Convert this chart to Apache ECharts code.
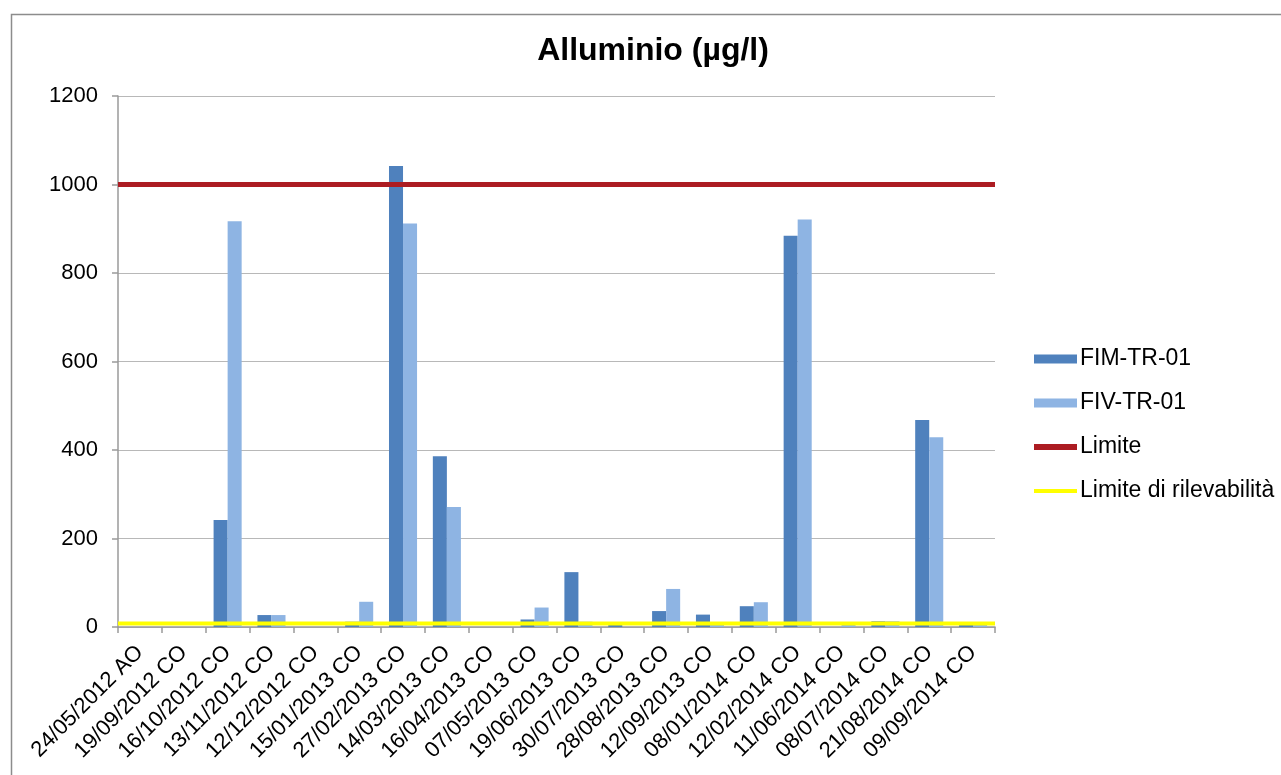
<!DOCTYPE html>
<html>
<head>
<meta charset="utf-8">
<title>Alluminio (µg/l)</title>
<script src="https://cdn.jsdelivr.net/npm/echarts@6/dist/echarts.min.js"></script>
<style>
  html, body { margin: 0; padding: 0; background: #ffffff; }
  #chart { width: 1281px; height: 775px; }
</style>
</head>
<body>
<div id="chart"></div>
<script>
// Sampling campaigns (date + campaign type)
const categories = [
  '24/05/2012 AO', '19/09/2012 CO', '16/10/2012 CO', '13/11/2012 CO',
  '12/12/2012 CO', '15/01/2013 CO', '27/02/2013 CO', '14/03/2013 CO',
  '16/04/2013 CO', '07/05/2013 CO', '19/06/2013 CO', '30/07/2013 CO',
  '28/08/2013 CO', '12/09/2013 CO', '08/01/2014 CO', '12/02/2014 CO',
  '11/06/2014 CO', '08/07/2014 CO', '21/08/2014 CO', '09/09/2014 CO'
];

// Aluminium concentration per station (µg/l)
const fimTr01 = [0, 0, 242, 27, 0, 12, 1042, 386, 0, 17, 124, 11, 36, 28, 47, 884, 0, 13, 468, 10];
const fivTr01 = [0, 0, 917, 27, 0, 57, 912, 271, 0, 44, 12, 0, 86, 10, 56, 921, 10, 13, 429, 10];

// Regulatory limit and detection limit (µg/l)
const limite = categories.map(() => 1000);
const limiteRilevabilita = categories.map(() => 8);

// Y axis scale
const yMin = 0;
const yMax = 1200;
const yStep = 200;

const chart = echarts.init(document.getElementById('chart'), null, { renderer: 'canvas' });

const font = 'Liberation Sans, Arial, sans-serif';
const axisGrey = '#9a9a9a';

chart.setOption({
  animation: false,
  backgroundColor: '#ffffff',
  graphic: [{
    type: 'rect',
    left: 9, top: 12,
    shape: { width: 1300, height: 800 },
    style: { fill: 'none', stroke: '#8c8c8c', lineWidth: 1.5 },
    silent: true, z: -1
  }],
  title: {
    text: 'Alluminio (µg/l)',
    left: 648, top: 30,
    textAlign: 'center',
    textStyle: { fontFamily: font, fontSize: 32, fontWeight: 'bold', color: '#000000' }
  },
  legend: {
    orient: 'vertical',
    left: 1029, top: 342,
    itemWidth: 43, itemHeight: 9,
    itemGap: 20,
    textStyle: { fontFamily: font, fontSize: 23, color: '#000000', lineHeight: 24, padding: [0, 0, 0, -2] },
    data: [
      { name: 'FIM-TR-01', icon: 'rect' },
      { name: 'FIV-TR-01', icon: 'rect' },
      { name: 'Limite', icon: 'path://M0,0h43v6h-43z' },
      { name: 'Limite di rilevabilità', icon: 'path://M0,0h43v4h-43z' }
    ]
  },
  grid: { left: 118, right: 286, top: 96, bottom: 148 },
  xAxis: [{
    type: 'category',
    data: categories,
    axisLine: { lineStyle: { color: axisGrey, width: 1.5 } },
    axisTick: { show: true, length: 6, lineStyle: { color: axisGrey, width: 1.5 } },
    axisLabel: {
      rotate: 45, interval: 0, margin: 22,
      fontFamily: font, fontSize: 22, color: '#000000'
    }
  }, {
    type: 'category',
    data: categories,
    boundaryGap: false,
    show: false
  }],
  yAxis: {
    type: 'value',
    min: yMin, max: yMax, interval: yStep,
    axisLine: { show: true, lineStyle: { color: axisGrey, width: 1.5 } },
    axisTick: { show: true, length: 6, lineStyle: { color: axisGrey, width: 1.5 } },
    splitLine: { lineStyle: { color: '#b8b8b8', width: 1.2 } },
    axisLabel: {
      margin: 20, fontFamily: font, fontSize: 22, color: '#000000',
      formatter: (v) => String(v)
    }
  },
  series: [{
    name: 'FIM-TR-01',
    type: 'bar',
    data: fimTr01,
    barGap: '0%',
    barCategoryGap: '36%',
    itemStyle: { color: '#4f81bd' },
    z: 2
  }, {
    name: 'FIV-TR-01',
    type: 'bar',
    data: fivTr01,
    barGap: '0%',
    barCategoryGap: '36%',
    itemStyle: { color: '#8eb4e3' },
    z: 2
  }, {
    name: 'Limite',
    type: 'line',
    xAxisIndex: 1,
    data: limite,
    symbol: 'none',
    lineStyle: { color: '#ac1c22', width: 5 },
    itemStyle: { color: '#ac1c22' },
    z: 4
  }, {
    name: 'Limite di rilevabilità',
    type: 'line',
    xAxisIndex: 1,
    data: limiteRilevabilita,
    symbol: 'none',
    lineStyle: { color: '#ffff00', width: 4 },
    itemStyle: { color: '#ffff00' },
    z: 4
  }]
});
</script>
</body>
</html>
